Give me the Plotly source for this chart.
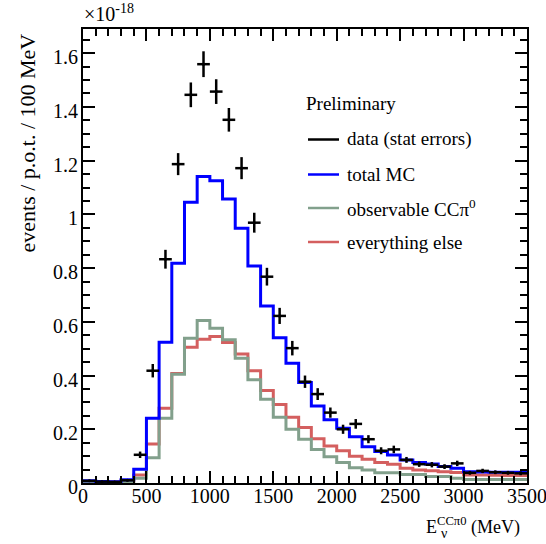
import plotly.graph_objects as go

# ---------------- data (units of 1e-18 events / p.o.t. / 100 MeV) ----------------
bin_edges = [i * 100 for i in range(36)]           # 0 .. 3500 MeV
bin_centers = [50 + i * 100 for i in range(35)]

data_vals = [0.008, 0.005, 0.004, 0.010, 0.105, 0.418, 0.833, 1.187, 1.445, 1.559,
             1.457, 1.352, 1.172, 0.969, 0.768, 0.622, 0.502, 0.377, 0.331, 0.262,
             0.200, 0.220, 0.163, 0.120, 0.125, 0.086, 0.070, 0.068, 0.061, 0.073,
             0.038, 0.045, 0.040, 0.038, 0.036]
data_errs = [0.0034, 0.0027, 0.0024, 0.0038, 0.012, 0.025, 0.035, 0.041, 0.046, 0.048,
             0.046, 0.044, 0.041, 0.037, 0.033, 0.030, 0.027, 0.023, 0.022, 0.019,
             0.017, 0.018, 0.015, 0.013, 0.014, 0.011, 0.010, 0.010, 0.009, 0.010,
             0.007, 0.008, 0.007, 0.007, 0.007]
bin_half = [50] * 35

total_mc = [0.008, 0.006, 0.005, 0.012, 0.051, 0.241, 0.524, 0.818, 1.045, 1.141,
            1.125, 1.057, 0.948, 0.808, 0.659, 0.541, 0.446, 0.374, 0.287, 0.235,
            0.204, 0.172, 0.135, 0.117, 0.104, 0.086, 0.076, 0.071, 0.061, 0.055,
            0.042, 0.041, 0.040, 0.040, 0.040]
observable = [0.002, 0.001, 0.001, 0.004, 0.018, 0.094, 0.241, 0.405, 0.539, 0.605,
              0.576, 0.533, 0.464, 0.384, 0.312, 0.245, 0.200, 0.163, 0.125, 0.098,
              0.076, 0.057, 0.048, 0.038, 0.038, 0.032, 0.032, 0.024, 0.024, 0.018,
              0.013, 0.013, 0.013, 0.013, 0.013]
everything_else = [0.006, 0.005, 0.004, 0.008, 0.030, 0.145, 0.278, 0.408, 0.505, 0.535,
                   0.545, 0.523, 0.480, 0.418, 0.344, 0.292, 0.245, 0.207, 0.165, 0.138,
                   0.120, 0.100, 0.088, 0.076, 0.070, 0.055, 0.048, 0.046, 0.042, 0.039,
                   0.030, 0.030, 0.029, 0.028, 0.028]

x_ticks = [0, 500, 1000, 1500, 2000, 2500, 3000, 3500]
x_ticktext = ["0", "500", "1000", "1500", "2000", "2500", "3000", "3500"]
y_ticks = [0, 0.2, 0.4, 0.6, 0.8, 1.0, 1.2, 1.4, 1.6]
y_ticktext = ["0", "0.2", "0.4", "0.6", "0.8", "1", "1.2", "1.4", "1.6"]

legend_labels = ["data (stat errors)", "total MC", "observable CCπ<sup>0</sup>", "everything else"]
legend_colors = ["#000000", "#0000ff", "#82a08c", "#d45f5f"]

FONT = "Liberation Serif, Times New Roman, serif"
BLUE, GREEN, RED = "#0000ff", "#82a08c", "#d45f5f"

fig = go.Figure()

def step(vals, color, width):
    fig.add_trace(go.Scatter(
        x=bin_edges, y=vals + [vals[-1]], mode="lines", line_shape="hv",
        line=dict(color=color, width=width), showlegend=False, hoverinfo="skip"))

step(everything_else, RED, 3)
step(observable, GREEN, 3)
step(total_mc, BLUE, 3)

fig.add_trace(go.Scatter(
    x=bin_centers, y=data_vals, mode="markers",
    marker=dict(color="black", size=3),
    error_x=dict(type="data", array=bin_half, color="black", thickness=2.5, width=0),
    error_y=dict(type="data", array=data_errs, color="black", thickness=2.5, width=0),
    showlegend=False))

# plot area in pixels
L, R, T, B = 83, 527, 29, 483
W, H = R - L, B - T

def px(xp):
    return (xp - L) / W

def py(yp):
    return (B - yp) / H

annotations = [
    dict(text="×10<sup>-18</sup>", x=px(82), y=py(27), xref="paper", yref="paper",
         xanchor="left", yanchor="bottom", showarrow=False,
         font=dict(family=FONT, size=20, color="black")),
    dict(text="events / p.o.t. / 100 MeV", x=px(27), y=py(32), xref="paper", yref="paper",
         xanchor="center", yanchor="top", textangle=-90, showarrow=False,
         font=dict(family=FONT, size=22, color="black")),
    dict(text="E<sup>CCπ0</sup> (MeV)", x=px(522), y=py(540), xref="paper", yref="paper",
         xanchor="right", yanchor="bottom", showarrow=False,
         font=dict(family=FONT, size=18, color="black")),
    dict(text="ν", x=px(439), y=py(533), xref="paper", yref="paper",
         xanchor="left", yanchor="middle", showarrow=False,
         font=dict(family=FONT, size=14, color="black")),
    dict(text="Preliminary", x=px(304), y=py(103), xref="paper", yref="paper",
         xanchor="left", yanchor="middle", showarrow=False,
         font=dict(family=FONT, size=19, color="black")),
]

# y tick labels placed against the y axis at the axis tick values
for v, t in zip(y_ticks, y_ticktext):
    annotations.append(dict(text=t, x=0, xref="paper", y=v, yref="y",
                            xanchor="right", yanchor="middle", xshift=-3, yshift=-4,
                            showarrow=False,
                            font=dict(family=FONT, size=20, color="black")))

shapes = []
legend_y = [139.5, 174.5, 208, 242]
for lab, col, yy in zip(legend_labels, legend_colors, legend_y):
    annotations.append(dict(text=lab, x=px(345), y=py(yy), xref="paper", yref="paper",
                            xanchor="left", yanchor="middle", showarrow=False,
                            font=dict(family=FONT, size=19, color="black")))
    shapes.append(dict(type="line", xref="paper", yref="paper",
                       x0=px(308), x1=px(339), y0=py(yy), y1=py(yy),
                       line=dict(color=col, width=2.5)))

axis_common = dict(
    showline=True, linecolor="black", linewidth=1.5, mirror="allticks",
    ticks="inside", tickcolor="black", tickwidth=1.5, ticklen=12,
    showgrid=False, zeroline=False,
    tickfont=dict(family=FONT, size=20, color="black"),
)

fig.update_layout(
    width=546, height=544,
    margin=dict(l=L, r=546 - R, t=T, b=544 - B),
    paper_bgcolor="white", plot_bgcolor="white",
    font=dict(family=FONT, color="black"),
    xaxis=dict(range=[0, 3500], tickvals=x_ticks, ticktext=x_ticktext,
               ticklabelstandoff=-6, ticklabeloverflow="allow", automargin=False,
               minor=dict(dtick=100, tick0=0, ticks="inside", ticklen=7,
                          tickwidth=1.5, tickcolor="black"),
               **axis_common),
    yaxis=dict(range=[0, 1.69], tickvals=y_ticks, ticktext=y_ticktext,
               showticklabels=False, automargin=False,
               minor=dict(dtick=0.05, tick0=0, ticks="inside", ticklen=7,
                          tickwidth=1.5, tickcolor="black"),
               **axis_common),
    annotations=annotations, shapes=shapes,
    showlegend=False,
)

fig.write_html("out.html", config={"displayModeBar": False},
               post_script="document.body.style.margin='0';document.body.style.overflow='hidden';")
